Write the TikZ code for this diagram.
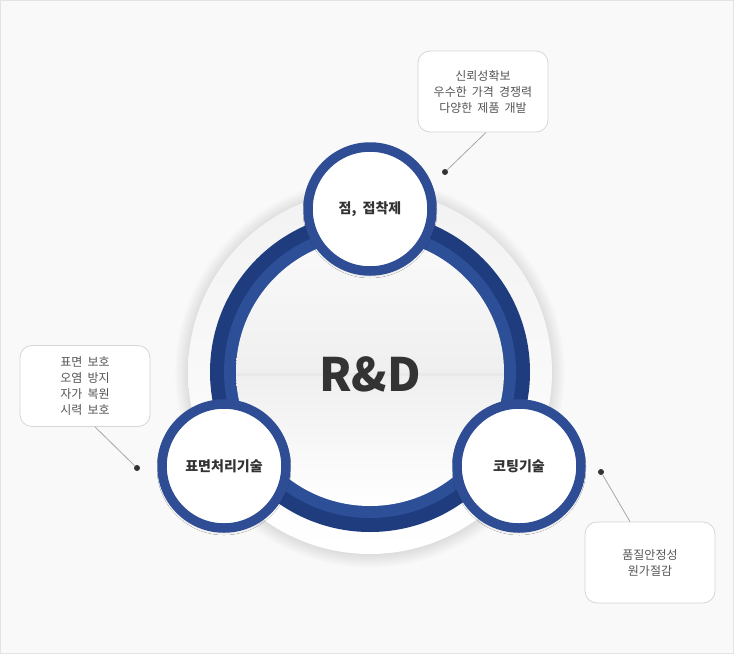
\documentclass[tikz,border=0pt]{standalone}
\usepackage{fontspec}
\setmainfont{Noto Sans CJK KR}[WordSpace=1.9]
\usetikzlibrary{shadows.blur}
\definecolor{bgc}{HTML}{F9F9F9}
\definecolor{edgec}{HTML}{E3E3E3}
\definecolor{ringdark}{HTML}{1F3C7E}
\definecolor{ringmid}{HTML}{2D4F97}
\definecolor{ringsmall}{HTML}{2E4D94}
\definecolor{textdark}{HTML}{333333}
\definecolor{textsoft}{HTML}{555555}
\definecolor{boxedge}{HTML}{D6D6D6}
\definecolor{connc}{HTML}{A8A8A8}
\definecolor{disctop}{HTML}{FAFAFA}
\definecolor{discmid}{HTML}{EFEFEF}
\definecolor{discband}{HTML}{E9E9E9}
\tikzset{
  smallc/.style={circle, draw=ringsmall, line width=9.5pt, fill=white, minimum size=124pt, inner sep=0pt, outer sep=0pt,
    font=\fontsize{14}{16}\selectfont\bfseries, text=textdark,
    blur shadow={shadow xshift=0pt, shadow yshift=-2pt, shadow blur radius=5pt, shadow opacity=30}},
  callout/.style={draw=boxedge, line width=0.8pt, fill=white, rounded corners=12pt, minimum width=130pt, minimum height=81pt,
    align=center, font=\fontsize{12}{16}\selectfont, text=textsoft, inner sep=0pt},
  dotn/.style={circle, fill=textdark, minimum size=6pt, inner sep=0pt},
  conn/.style={draw=connc, line width=0.8pt}
}
\begin{document}
\begin{tikzpicture}[x=1pt,y=-1pt]
\fill[bgc] (0,0) rectangle (734,654);
\draw[edgec, line width=1pt] (0.5,0.5) rectangle (733.5,653.5);
% soft shadow of the outer disc
\foreach \i in {1,...,14}
  \fill[black, opacity=0.008] (370,373) circle ({196-\i});
% outer light disc
\shade[top color=white!95!black, bottom color=white] (370,372) circle (182pt);
% ring
\fill[ringdark] (370,372) circle (160pt);
\shade[inner color=ringmid, outer color=ringdark] (370,372) circle (149pt);
\fill[ringmid] (370,372) circle (146pt);
% inner disc
\begin{scope}
  \clip (370,372) circle (134pt);
  \shade[top color=disctop, bottom color=discmid] (236,238) rectangle (504,374);
  \shade[top color=discmid, bottom color=white] (236,374) rectangle (504,506);
  \fill[discband] (236,373) rectangle (504,376);
\end{scope}
\node[font=\fontsize{46}{46}\selectfont\bfseries, text=textdark] (rd) at (370,374) {R\&D};
% small circles
\node[smallc] (n1) at (370,209) {점, 접착제};
\node[smallc] (n2) at (224,466) {표면처리기술};
\node[smallc] (n3) at (519,466) {코팅기술};
% callouts
\node[callout] (c1) at (483,91.5) {신뢰성확보\\우수한 가격 경쟁력\\다양한 제품 개발};
\node[callout] (c2) at (85,386) {표면 보호\\오염 방지\\자가 복원\\시력 보호};
\node[callout] (c3) at (650,562.5) {품질안정성\\원가절감};
\node[dotn] (d1) at (445,172) {};
\node[dotn] (d2) at (137,468) {};
\node[dotn] (d3) at (601,472) {};
\draw[conn] (d1) -- ([xshift=3pt]c1.south);
\draw[conn] (d2) -- ([xshift=10pt]c2.south);
\draw[conn] (d3) -- ([xshift=-20pt]c3.north);
\end{tikzpicture}
\end{document}
